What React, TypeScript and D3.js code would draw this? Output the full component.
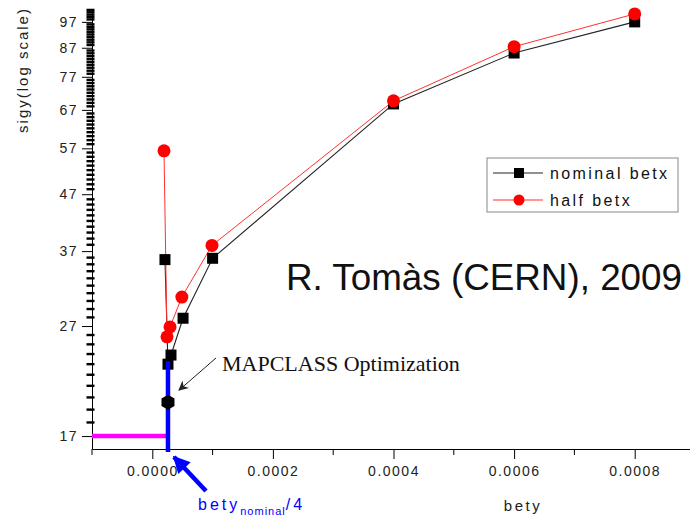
import React, { useEffect, useRef } from "react";
import * as d3 from "d3";

// nominal betx series (bety, sigy)
const betyNominal = [0.000021, 0.000026, 0.000031, 0.000051, 0.0001, 0.0004, 0.0006, 0.0008];
const sigyNominal = [35.7, 23.0, 23.9, 27.9, 35.9, 68.7, 85.1, 97.0];
// half betx series
const betyHalf = [0.0000194, 0.0000244, 0.0000294, 0.000049, 0.000099, 0.0004, 0.0006, 0.0008];
const sigyHalf = [56.4, 25.8, 26.9, 30.5, 37.9, 69.6, 87.4, 100.3];
// MAPCLASS optimised point
const mapclassBety = 0.000026;
const mapclassSigy = 19.6;
// guide lines
const betyQuarter = 0.000026;
const sigyFloor = 17;
const sigyGuideTop = 23.3;

const yTickLabels = [17, 27, 37, 47, 57, 67, 77, 87, 97];
const xTickLabels = [0, 0.0002, 0.0004, 0.0006, 0.0008];
const xMinorTicks = [-0.0001, 0.0001, 0.0003, 0.0005, 0.0007, 0.0009];

export default function App() {
  const ref = useRef<SVGSVGElement>(null);

  useEffect(() => {
    const svg = d3.select(ref.current);
    svg.selectAll("*").remove();

    const font = "'Liberation Sans', Arial, sans-serif";

    const x = d3.scaleLinear().domain([-0.0001, 0.0009]).range([92, 695]);
    const y = d3.scaleLog().domain([16.1, 102.4]).range([449, 9]);

    const defs = svg.append("defs");
    defs
      .append("marker")
      .attr("id", "headBlack")
      .attr("viewBox", "0 0 10 10")
      .attr("refX", 9)
      .attr("refY", 5)
      .attr("markerWidth", 14)
      .attr("markerHeight", 10)
      .attr("markerUnits", "userSpaceOnUse")
      .attr("orient", "auto")
      .append("path")
      .attr("d", "M0,0 L10,5 L0,10 L3,5 Z")
      .attr("fill", "#222");
    defs
      .append("marker")
      .attr("id", "headBlue")
      .attr("viewBox", "0 0 10 10")
      .attr("refX", 9)
      .attr("refY", 5)
      .attr("markerWidth", 20)
      .attr("markerHeight", 17)
      .attr("markerUnits", "userSpaceOnUse")
      .attr("orient", "auto")
      .append("path")
      .attr("d", "M0,0 L10,5 L0,10 Z")
      .attr("fill", "#0000ff");

    // x axis
    const xAxis = svg
      .append("g")
      .attr("transform", "translate(0,449)")
      .call(
        d3
          .axisBottom(x)
          .tickValues(xTickLabels)
          .tickSize(10)
          .tickSizeOuter(0)
          .tickPadding(7)
          .tickFormat(d3.format(".4f"))
      );
    xAxis
      .selectAll("text")
      .attr("font-family", font)
      .attr("font-size", 14)
      .attr("letter-spacing", 1.5)
      .attr("fill", "#222");
    svg
      .append("g")
      .selectAll("line")
      .data(xMinorTicks)
      .enter()
      .append("line")
      .attr("x1", (d) => x(d))
      .attr("x2", (d) => x(d))
      .attr("y1", 449)
      .attr("y2", 455)
      .attr("stroke", "#000");

    // y axis
    const yAxis = svg
      .append("g")
      .attr("transform", "translate(92,0)")
      .call(
        d3
          .axisLeft(y)
          .tickValues(yTickLabels)
          .tickSize(10)
          .tickSizeOuter(0)
          .tickPadding(4)
          .tickFormat(d3.format("d"))
      );
    yAxis
      .selectAll("text")
      .attr("font-family", font)
      .attr("font-size", 14)
      .attr("letter-spacing", 1.5)
      .attr("fill", "#222");
    const yMinor = d3.range(18, 103).filter((v) => !yTickLabels.includes(v));
    svg
      .append("g")
      .selectAll("line")
      .data(yMinor)
      .enter()
      .append("line")
      .attr("x1", 86.5)
      .attr("x2", 94.5)
      .attr("y1", (d) => y(d))
      .attr("y2", (d) => y(d))
      .attr("stroke", "#000")
      .attr("stroke-width", 2.4);

    // axis titles
    svg
      .append("text")
      .attr("transform", "translate(28,70) rotate(-90)")
      .attr("text-anchor", "middle")
      .attr("font-family", font)
      .attr("font-size", 15)
      .attr("letter-spacing", 2)
      .attr("fill", "#222")
      .text("sigy(log scale)");
    svg
      .append("text")
      .attr("x", 523)
      .attr("y", 511)
      .attr("text-anchor", "middle")
      .attr("font-family", font)
      .attr("font-size", 15)
      .attr("letter-spacing", 2.5)
      .attr("fill", "#222")
      .text("bety");

    // magenta guide at sigy = 17
    svg
      .append("line")
      .attr("x1", 92)
      .attr("x2", x(betyQuarter))
      .attr("y1", y(sigyFloor))
      .attr("y2", y(sigyFloor))
      .attr("stroke", "#ff00ff")
      .attr("stroke-width", 4.5);

    const nominal = betyNominal.map((b, i) => [b, sigyNominal[i]]);
    const half = betyHalf.map((b, i) => [b, sigyHalf[i]]);
    const line = d3
      .line<number[]>()
      .x((d) => x(d[0]))
      .y((d) => y(d[1]));

    svg
      .append("path")
      .attr("d", line(nominal))
      .attr("fill", "none")
      .attr("stroke", "#222")
      .attr("stroke-width", 1.1);
    svg
      .append("path")
      .attr("d", line(half))
      .attr("fill", "none")
      .attr("stroke", "#ff3030")
      .attr("stroke-width", 1);

    svg
      .append("g")
      .selectAll("rect")
      .data(nominal)
      .enter()
      .append("rect")
      .attr("x", (d) => x(d[0]) - 5.5)
      .attr("y", (d) => y(d[1]) - 5.5)
      .attr("width", 11)
      .attr("height", 11)
      .attr("fill", "#000");
    svg
      .append("g")
      .selectAll("circle")
      .data(half)
      .enter()
      .append("circle")
      .attr("cx", (d) => x(d[0]))
      .attr("cy", (d) => y(d[1]))
      .attr("r", 6.5)
      .attr("fill", "#ff0000");

    // blue guide at bety_nominal/4
    svg
      .append("line")
      .attr("x1", x(betyQuarter))
      .attr("x2", x(betyQuarter))
      .attr("y1", y(sigyGuideTop))
      .attr("y2", 452)
      .attr("stroke", "#0000ff")
      .attr("stroke-width", 4.5);

    // MAPCLASS point (hexagon)
    const hx = x(mapclassBety);
    const hy = y(mapclassSigy);
    const hex = d3.range(6).map((k) => {
      const a = (Math.PI / 3) * k + Math.PI / 6;
      return [hx + 7.5 * Math.cos(a), hy + 7.5 * Math.sin(a)];
    });
    svg
      .append("polygon")
      .attr("points", hex.map((p) => p.join(",")).join(" "))
      .attr("fill", "#000");

    // annotation arrows
    svg
      .append("line")
      .attr("x1", 216)
      .attr("y1", 358)
      .attr("x2", hx + 11)
      .attr("y2", hy - 12)
      .attr("stroke", "#222")
      .attr("stroke-width", 1)
      .attr("marker-end", "url(#headBlack)");
    svg
      .append("line")
      .attr("x1", 206)
      .attr("y1", 491)
      .attr("x2", 174)
      .attr("y2", 457)
      .attr("stroke", "#0000ff")
      .attr("stroke-width", 4.5)
      .attr("marker-end", "url(#headBlue)");

    svg
      .append("text")
      .attr("x", 222)
      .attr("y", 371)
      .attr("font-family", "'Liberation Serif', 'Times New Roman', serif")
      .attr("font-size", 22)
      .attr("fill", "#111")
      .text("MAPCLASS Optimization");

    const blue = svg
      .append("text")
      .attr("x", 198)
      .attr("y", 510)
      .attr("font-family", font)
      .attr("fill", "#0000ff");
    blue.append("tspan").attr("font-size", 16).attr("letter-spacing", 3).text("bety");
    blue
      .append("tspan")
      .attr("font-size", 11)
      .attr("dy", 5)
      .attr("letter-spacing", 1)
      .text("nominal");
    blue
      .append("tspan")
      .attr("font-size", 16)
      .attr("dy", -5)
      .attr("letter-spacing", 3)
      .text("/4");

    svg
      .append("text")
      .attr("x", 286)
      .attr("y", 290)
      .attr("font-family", font)
      .attr("font-size", 36)
      .attr("textLength", 396)
      .attr("lengthAdjust", "spacingAndGlyphs")
      .attr("fill", "#111")
      .text("R. Tomàs (CERN), 2009");

    // legend
    const legend = svg.append("g").attr("transform", "translate(487,158)");
    legend
      .append("rect")
      .attr("width", 191)
      .attr("height", 54)
      .attr("fill", "#fff")
      .attr("stroke", "#888");
    const rows = [
      { label: "nominal betx", color: "#222", y: 15 },
      { label: "half betx", color: "#ff3030", y: 42 },
    ];
    rows.forEach((r, i) => {
      legend
        .append("line")
        .attr("x1", 6)
        .attr("x2", 56)
        .attr("y1", r.y)
        .attr("y2", r.y)
        .attr("stroke", r.color)
        .attr("stroke-width", 1.1);
      if (i === 0) {
        legend
          .append("rect")
          .attr("x", 27)
          .attr("y", r.y - 5)
          .attr("width", 10)
          .attr("height", 10)
          .attr("fill", "#000");
      } else {
        legend
          .append("circle")
          .attr("cx", 32)
          .attr("cy", r.y)
          .attr("r", 5.5)
          .attr("fill", "#ff0000");
      }
      legend
        .append("text")
        .attr("x", 63)
        .attr("y", r.y + 6)
        .attr("font-family", font)
        .attr("font-size", 16)
        .attr("letter-spacing", 2.4)
        .attr("fill", "#111")
        .text(r.label);
    });
  }, []);

  return (
    <svg
      ref={ref}
      width={690}
      height={516}
      style={{ position: "absolute", left: 0, top: 0, background: "#fff" }}
    />
  );
}
